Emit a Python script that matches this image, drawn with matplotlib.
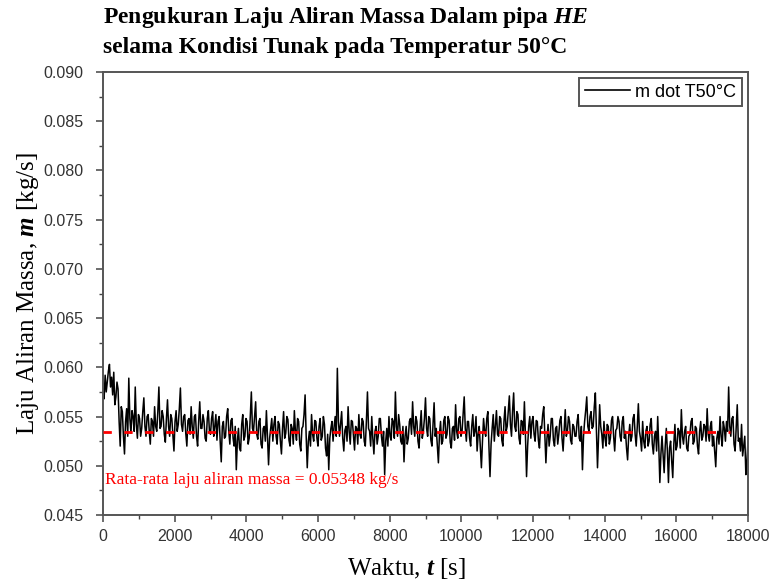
import numpy as np
import matplotlib
matplotlib.use("Agg")
import matplotlib.pyplot as plt
from matplotlib.ticker import MultipleLocator, FormatStrFormatter

plt.rcParams['mathtext.fontset'] = 'custom'
plt.rcParams['mathtext.rm'] = 'Liberation Serif'
plt.rcParams['mathtext.it'] = 'Liberation Serif:italic'
plt.rcParams['mathtext.bf'] = 'Liberation Serif:bold'
plt.rcParams['mathtext.bfit'] = 'Liberation Serif:bold:italic'

# time step 30 s (one row = 600 s)
time_s = np.arange(0, 18001, 30)
m_dot = np.array([
    0.0578, 0.0568, 0.0592, 0.0575, 0.0585, 0.0596, 0.0603, 0.0580, 0.0590, 0.0572,
    0.0595, 0.0562, 0.0570, 0.0585, 0.0578, 0.0545, 0.0520, 0.0560, 0.0555, 0.0530,  # 0
    0.0512, 0.0545, 0.0558, 0.0530, 0.0589, 0.0548, 0.0533, 0.0556, 0.0550, 0.0535,
    0.0580, 0.0542, 0.0528, 0.0552, 0.0548, 0.0530, 0.0538, 0.0555, 0.0569, 0.0540,  # 600
    0.0530, 0.0550, 0.0552, 0.0535, 0.0522, 0.0548, 0.0545, 0.0530, 0.0560, 0.0540,
    0.0535, 0.0555, 0.0580, 0.0538, 0.0540, 0.0556, 0.0550, 0.0532, 0.0524, 0.0548,  # 1200
    0.0567, 0.0540, 0.0530, 0.0552, 0.0548, 0.0532, 0.0515, 0.0545, 0.0556, 0.0535,
    0.0542, 0.0558, 0.0579, 0.0542, 0.0535, 0.0550, 0.0552, 0.0533, 0.0520, 0.0546,  # 1800
    0.0548, 0.0532, 0.0560, 0.0540, 0.0528, 0.0550, 0.0552, 0.0530, 0.0520, 0.0545,
    0.0565, 0.0538, 0.0538, 0.0552, 0.0545, 0.0528, 0.0525, 0.0548, 0.0556, 0.0535,  # 2400
    0.0532, 0.0548, 0.0555, 0.0530, 0.0540, 0.0552, 0.0526, 0.0545, 0.0550, 0.0525,
    0.0504, 0.0540, 0.0545, 0.0528, 0.0530, 0.0550, 0.0558, 0.0535, 0.0522, 0.0546,  # 3000
    0.0548, 0.0528, 0.0520, 0.0540, 0.0496, 0.0525, 0.0538, 0.0518, 0.0515, 0.0542,
    0.0552, 0.0526, 0.0530, 0.0548, 0.0545, 0.0522, 0.0528, 0.0550, 0.0575, 0.0538,  # 3600
    0.0535, 0.0550, 0.0565, 0.0532, 0.0527, 0.0545, 0.0548, 0.0522, 0.0518, 0.0538,
    0.0540, 0.0525, 0.0556, 0.0530, 0.0501, 0.0528, 0.0538, 0.0548, 0.0525, 0.0542,  # 4200
    0.0550, 0.0530, 0.0522, 0.0545, 0.0542, 0.0525, 0.0512, 0.0538, 0.0555, 0.0528,
    0.0533, 0.0550, 0.0547, 0.0526, 0.0520, 0.0542, 0.0538, 0.0522, 0.0556, 0.0535,  # 4800
    0.0526, 0.0548, 0.0545, 0.0522, 0.0515, 0.0538, 0.0540, 0.0552, 0.0572, 0.0530,
    0.0498, 0.0525, 0.0535, 0.0520, 0.0552, 0.0532, 0.0525, 0.0546, 0.0545, 0.0528,  # 5400
    0.0520, 0.0540, 0.0548, 0.0526, 0.0530, 0.0550, 0.0542, 0.0518, 0.0510, 0.0532,
    0.0496, 0.0528, 0.0538, 0.0545, 0.0525, 0.0540, 0.0550, 0.0530, 0.0599, 0.0545,  # 6000
    0.0530, 0.0542, 0.0555, 0.0528, 0.0515, 0.0536, 0.0540, 0.0525, 0.0560, 0.0535,
    0.0522, 0.0546, 0.0545, 0.0530, 0.0516, 0.0540, 0.0538, 0.0522, 0.0552, 0.0532,  # 6600
    0.0528, 0.0548, 0.0545, 0.0525, 0.0520, 0.0545, 0.0575, 0.0538, 0.0535, 0.0520,
    0.0550, 0.0528, 0.0512, 0.0535, 0.0540, 0.0522, 0.0530, 0.0548, 0.0548, 0.0530,  # 7200
    0.0520, 0.0535, 0.0491, 0.0525, 0.0538, 0.0520, 0.0550, 0.0530, 0.0526, 0.0548,
    0.0545, 0.0528, 0.0575, 0.0540, 0.0530, 0.0552, 0.0542, 0.0525, 0.0522, 0.0540,  # 7800
    0.0504, 0.0530, 0.0540, 0.0522, 0.0528, 0.0545, 0.0548, 0.0532, 0.0565, 0.0540,
    0.0530, 0.0550, 0.0545, 0.0525, 0.0518, 0.0540, 0.0556, 0.0528, 0.0535, 0.0548,  # 8400
    0.0569, 0.0538, 0.0530, 0.0550, 0.0548, 0.0526, 0.0520, 0.0542, 0.0564, 0.0530,
    0.0538, 0.0520, 0.0503, 0.0532, 0.0545, 0.0522, 0.0525, 0.0546, 0.0550, 0.0528,  # 9000
    0.0532, 0.0550, 0.0546, 0.0524, 0.0518, 0.0538, 0.0540, 0.0526, 0.0562, 0.0535,
    0.0528, 0.0548, 0.0550, 0.0530, 0.0535, 0.0552, 0.0570, 0.0538, 0.0525, 0.0545,  # 9600
    0.0545, 0.0528, 0.0520, 0.0540, 0.0552, 0.0530, 0.0535, 0.0550, 0.0515, 0.0532,
    0.0540, 0.0520, 0.0498, 0.0525, 0.0548, 0.0535, 0.0530, 0.0548, 0.0555, 0.0520,  # 10200
    0.0489, 0.0522, 0.0538, 0.0552, 0.0525, 0.0540, 0.0556, 0.0532, 0.0530, 0.0550,
    0.0548, 0.0526, 0.0520, 0.0545, 0.0560, 0.0535, 0.0540, 0.0555, 0.0571, 0.0542,  # 10800
    0.0530, 0.0556, 0.0574, 0.0540, 0.0535, 0.0555, 0.0552, 0.0528, 0.0522, 0.0546,
    0.0545, 0.0532, 0.0565, 0.0530, 0.0489, 0.0520, 0.0540, 0.0550, 0.0528, 0.0545,  # 11400
    0.0550, 0.0532, 0.0525, 0.0546, 0.0545, 0.0526, 0.0518, 0.0540, 0.0538, 0.0552,
    0.0560, 0.0530, 0.0503, 0.0528, 0.0542, 0.0520, 0.0530, 0.0548, 0.0548, 0.0526,  # 12000
    0.0520, 0.0538, 0.0540, 0.0522, 0.0532, 0.0546, 0.0550, 0.0528, 0.0515, 0.0535,
    0.0557, 0.0530, 0.0535, 0.0550, 0.0545, 0.0526, 0.0522, 0.0542, 0.0540, 0.0530,  # 12600
    0.0530, 0.0545, 0.0552, 0.0528, 0.0525, 0.0540, 0.0496, 0.0530, 0.0545, 0.0556,
    0.0570, 0.0540, 0.0535, 0.0550, 0.0555, 0.0538, 0.0540, 0.0560, 0.0574, 0.0535,  # 13200
    0.0498, 0.0530, 0.0562, 0.0540, 0.0532, 0.0518, 0.0545, 0.0528, 0.0520, 0.0542,
    0.0540, 0.0522, 0.0528, 0.0546, 0.0550, 0.0530, 0.0515, 0.0536, 0.0538, 0.0550,  # 13800
    0.0545, 0.0530, 0.0525, 0.0545, 0.0550, 0.0528, 0.0535, 0.0518, 0.0506, 0.0530,
    0.0542, 0.0525, 0.0530, 0.0548, 0.0552, 0.0532, 0.0520, 0.0540, 0.0563, 0.0535,  # 14400
    0.0528, 0.0515, 0.0545, 0.0525, 0.0518, 0.0535, 0.0540, 0.0520, 0.0525, 0.0542,
    0.0548, 0.0522, 0.0512, 0.0530, 0.0535, 0.0515, 0.0550, 0.0520, 0.0483, 0.0512,  # 15000
    0.0530, 0.0512, 0.0493, 0.0520, 0.0538, 0.0515, 0.0483, 0.0518, 0.0525, 0.0505,
    0.0488, 0.0522, 0.0542, 0.0516, 0.0520, 0.0538, 0.0535, 0.0518, 0.0557, 0.0530,  # 15600
    0.0522, 0.0535, 0.0540, 0.0518, 0.0515, 0.0530, 0.0532, 0.0545, 0.0548, 0.0522,
    0.0525, 0.0540, 0.0538, 0.0520, 0.0512, 0.0535, 0.0545, 0.0526, 0.0530, 0.0542,  # 16200
    0.0540, 0.0525, 0.0558, 0.0532, 0.0525, 0.0540, 0.0545, 0.0520, 0.0530, 0.0515,
    0.0499, 0.0528, 0.0535, 0.0522, 0.0550, 0.0530, 0.0520, 0.0545, 0.0538, 0.0525,  # 16800
    0.0545, 0.0535, 0.0580, 0.0540, 0.0530, 0.0548, 0.0550, 0.0522, 0.0515, 0.0538,
    0.0562, 0.0525, 0.0528, 0.0515, 0.0542, 0.0510, 0.0520, 0.0530, 0.0491, 0.0505,  # 17400
    0.0525,
])
m_mean = 0.05348
mean_t_end = 17500

title_1 = r"Pengukuran Laju Aliran Massa Dalam pipa $\mathbfit{HE}$"
title_2 = "selama Kondisi Tunak pada Temperatur 50°C"
mean_label = "Rata-rata laju aliran massa = 0.05348 kg/s"

W, H = 774, 585
fig = plt.figure(figsize=(W / 100, H / 100), dpi=100)
ax = fig.add_axes([103 / W, 70 / H, 645 / W, 443 / H])

ax.plot(time_s, m_dot, color='black', lw=1.1, label='m dot T50°C')
ax.hlines(m_mean, 0, mean_t_end, color='red', lw=2.0, linestyles=(0, (3, 4.5)), zorder=3)

ax.set_xlim(0, 18000)
ax.set_ylim(0.045, 0.090)
ax.xaxis.set_major_locator(MultipleLocator(2000))
ax.xaxis.set_minor_locator(MultipleLocator(1000))
ax.yaxis.set_major_locator(MultipleLocator(0.005))
ax.yaxis.set_minor_locator(MultipleLocator(0.0025))
ax.yaxis.set_major_formatter(FormatStrFormatter('%.3f'))

for lab in ax.get_xticklabels() + ax.get_yticklabels():
    lab.set_fontfamily('Liberation Sans')
ax.tick_params(which='both', direction='out', top=False, right=False,
               color='#444444', labelcolor='#333333', labelsize=11.5)
ax.tick_params(which='major', length=5, width=1.1)
ax.tick_params(which='minor', length=3, width=1.0)
ax.tick_params(axis='y', which='major', pad=9)
ax.tick_params(axis='x', which='major', pad=5)
for sp in ax.spines.values():
    sp.set_color('#555555')
    sp.set_linewidth(1.4)

ax.set_xlabel(r"Waktu, $\mathbfit{t}$ [s]", family='Liberation Serif', fontsize=18)
ax.xaxis.set_label_coords(0.47, -0.093)
ax.set_ylabel(r"Laju Aliran Massa, $\mathbfit{m}$ [kg/s]", family='Liberation Serif', fontsize=18, labelpad=2)

ax.text(0.003, 0.08, mean_label, transform=ax.transAxes, color='red',
        family='Liberation Serif', fontsize=12.5, va='center', ha='left')

leg = ax.legend(loc='upper right', prop=dict(family='Liberation Sans', size=13),
                handlelength=2.5, handletextpad=0.3, borderaxespad=0.35,
                borderpad=0.3, fancybox=False, framealpha=1, edgecolor='#555555')
leg.get_frame().set_linewidth(1.4)
leg.get_lines()[0].set_linewidth(1.2)

fig.text(103 / W, 1 - 17 / H, title_1, family='Liberation Serif', fontweight='bold',
         fontsize=17, va='center', ha='left')
fig.text(103 / W, 1 - 47 / H, title_2, family='Liberation Serif', fontweight='bold',
         fontsize=17, va='center', ha='left')

fig.savefig('out.png', dpi=100)
